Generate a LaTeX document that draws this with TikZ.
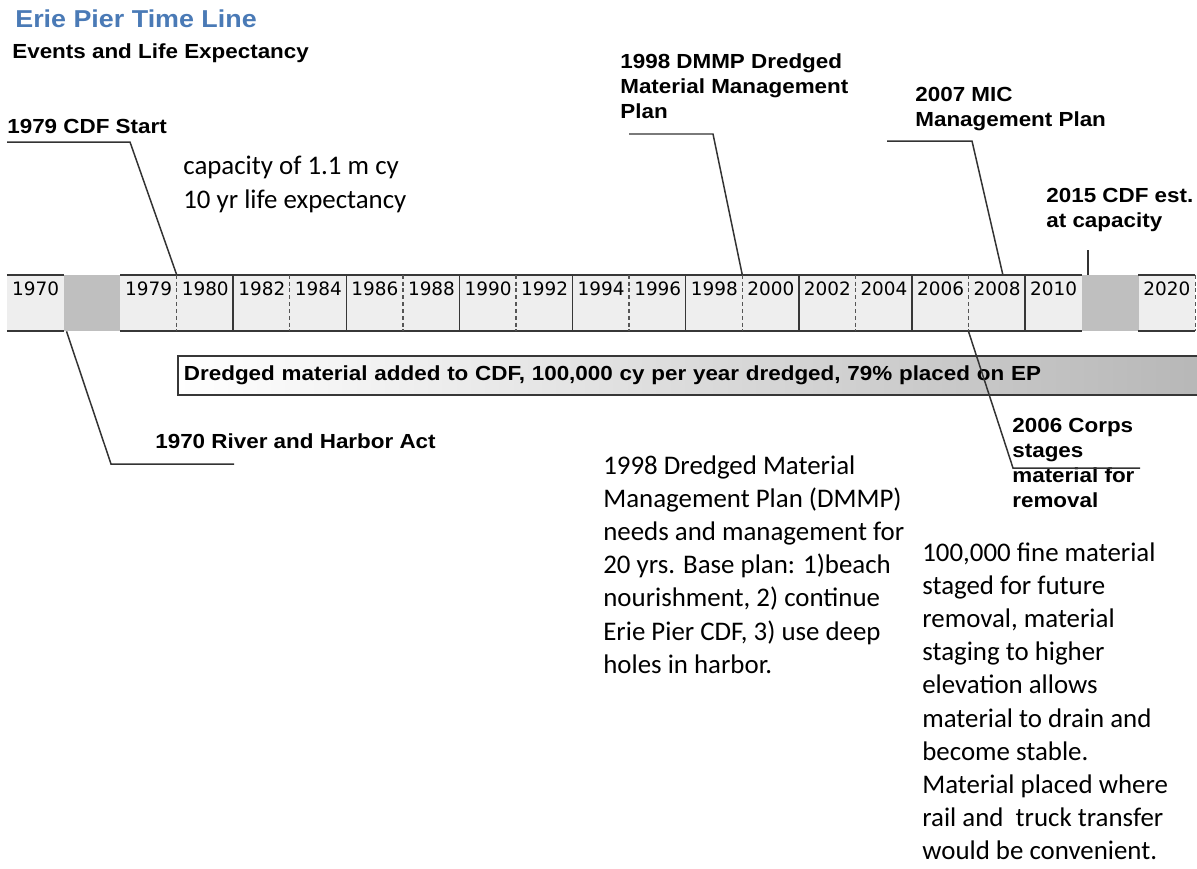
\documentclass[tikz,border=0pt]{standalone}
\usepackage{fontspec}
\setmainfont{Carlito}
\newfontfamily\lblfont[FakeStretch=1.1]{Liberation Sans}
\newfontfamily\yrfont{DejaVu Sans}
\usepackage{xcolor}
\usetikzlibrary{calc}
\definecolor{titleblue}{RGB}{74,122,182}
\definecolor{barline}{RGB}{55,55,55}
\tikzset{
  cellbox/.style = {
    rectangle, fill=gray!13, inner sep=0pt,
    minimum width=1.1312cm, minimum height=1.12cm
  },
  gapbox/.style = {cellbox, fill=gray!50},
  yrtext/.style = {
    font=\yrfont\fontsize{10.5}{12}\selectfont,
    anchor=base, inner sep=0pt, yshift=-0.42cm
  },
  evlabel/.style = {
    font=\lblfont\bfseries\fontsize{11.6}{14.2}\selectfont,
    align=left, inner sep=0pt, anchor=north west
  },
  note/.style = {
    font=\fontsize{15.3}{18.9}\selectfont,
    align=left, inner sep=0pt, anchor=north west
  },
  lead/.style = {draw=black!80, line width=0.85pt}
}

\begin{document}
\begin{tikzpicture}[
  x=0.02cm, y=-0.02cm,
  edge/.style={draw=barline, line width=1.1pt},
  sline/.style={draw=barline, line width=0.9pt},
  dline/.style={draw=barline!85, line width=0.8pt,
    dash pattern=on 2.3pt off 1.6pt},
  dredgebar/.style={
    anchor=west, draw=barline, line width=1.1pt,
    left color=white, right color=gray!58,
    minimum width=21.1cm, minimum height=0.78cm,
    text width=20.86cm, inner xsep=0.12cm, inner ysep=0pt,
    align=left, font=\lblfont\bfseries\fontsize{11.6}{14.2}\selectfont
  }
]
\useasboundingbox (0,0) rectangle (1197,869);
\clip (0,0) rectangle (1197,869);

%% Title
\node[evlabel, anchor=base west,
      font=\lblfont\bfseries\fontsize{13.9}{16}\selectfont,
      text=titleblue]                 (ttl)  at (15,27) {Erie Pier Time Line};
\node[evlabel, anchor=base west]      (sub)  at (12,58) {Events and Life Expectancy};

%% Time line cells
\foreach \yr/\i in {1970/0,1979/2,2020/20}
  \node[cellbox] (y\yr) at ({7.3+(\i+0.5)*56.56},303) {};
\foreach \yr [count=\i from 3] in {1980,1982,...,2010}
  \node[cellbox] (y\yr) at ({7.3+(\i+0.5)*56.56},303) {};
\node[gapbox] (gapa) at ({7.3+1.5*56.56},303) {};
\node[gapbox] (gapb) at ({7.3+19.5*56.56},303) {};

\foreach \yr in {1970,1979,1980,1982,...,2010,2020} {
  \node[yrtext] at (y\yr.north) {\yr};
  \draw[edge] (y\yr.north west) -- (y\yr.north east);
  \draw[edge] (y\yr.south west) -- (y\yr.south east);
}
\foreach \yr in {1980,1984,...,2008}
  \draw[dline] (y\yr.north west) -- (y\yr.south west);
\foreach \yr in {1982,1986,...,2010}
  \draw[sline] (y\yr.north west) -- (y\yr.south west);
\draw[dline] (y2020.north east) -- (y2020.south east);

%% Dredged material bar
\node[dredgebar] (dredge) at (177,375.5)
  {Dredged material added to CDF, 100,000 cy per year dredged, 79\% placed on EP};

%% Event labels
\node[evlabel, anchor=base west] (l79) at (7,133) {1979 CDF Start};
\node[evlabel] (l98) at (620,53) {1998 DMMP Dredged\\Material Management\\Plan};
\node[evlabel] (l07) at (915,87) {2007 MIC\\Management Plan};
\node[evlabel] (l15) at (1046,188) {2015 CDF est.\\at capacity};
\node[evlabel, anchor=base west] (l70) at (155,448) {1970 River and Harbor Act};
\node[evlabel] (l06) at (1012,418) {2006 Corps\\stages\\material for\\removal};

%% Notes
\node[note] (n79) at (183,156) {capacity of 1.1 m cy\\10 yr life expectancy};
\node[note] (n98) at (603,455) {1998 Dredged Material\\Management Plan (DMMP)\\needs and management for\\20 yrs. Base plan: 1)beach\\nourishment, 2) continue\\Erie Pier CDF, 3) use deep\\holes in harbor.};
\node[note] (n06) at (922,542) {100,000 fine material\\staged for future\\removal, material\\staging to higher\\elevation allows\\material to drain and\\become stable.\\Material placed where\\rail and \ truck transfer\\would be convenient.};

%% Leaders
\coordinate (k79) at (130,142);
\draw[lead] (l79.west |- k79) -- (k79) -- (y1980.north west);
\coordinate (s98) at (629,134);
\coordinate (k98) at (713,134);
\draw[lead] (s98) -- (k98) -- (y2000.north west);
\coordinate (s07) at (887,141);
\coordinate (k07) at (972,141);
\draw[lead] (s07) -- (k07) -- ($(y2008.north west)!0.6!(y2008.north east)$);
\coordinate (t15) at (1088,250);
\draw[lead] (t15) -- (t15 |- gapb.north);
\coordinate (k70) at (111,464);
\coordinate (e70) at (234,464);
\draw[lead] ([xshift=0.06cm]gapa.south west) -- (k70) -- (e70);
\coordinate (k06) at (1013,468);
\coordinate (e06) at (1140,468);
\draw[lead] (y2008.south west) -- (k06) -- (e06);

\end{tikzpicture}
\end{document}
